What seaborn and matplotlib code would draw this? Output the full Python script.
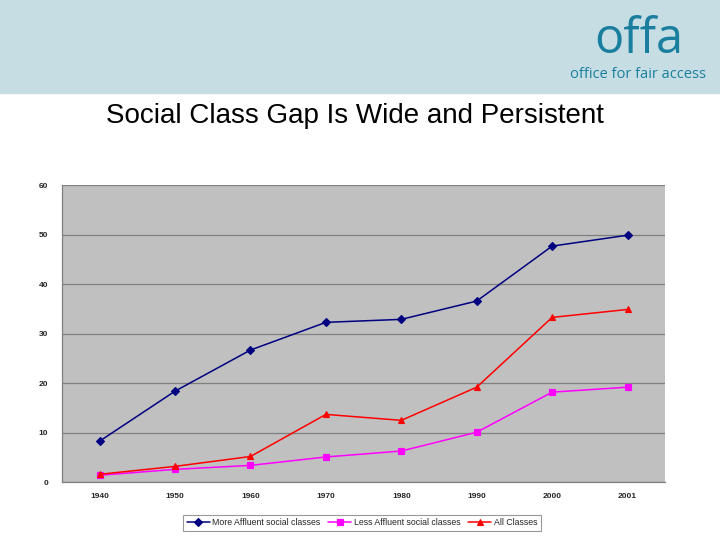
import numpy as np
import pandas as pd
import matplotlib.pyplot as plt
import seaborn as sns

# Data
years = ['1940', '1950', '1960', '1970', '1980', '1990', '2000', '2001']
more_affluent = [8.3, 18.4, 26.7, 32.3, 32.9, 36.6, 47.7, 49.9]
less_affluent = [1.4, 2.6, 3.4, 5.1, 6.3, 10.1, 18.2, 19.2]
all_classes = [1.6, 3.2, 5.2, 13.7, 12.5, 19.2, 33.3, 34.9]
series_names = ['More Affluent social classes', 'Less Affluent social classes', 'All Classes']

df = pd.DataFrame({
    'year': years * 3,
    'value': more_affluent + less_affluent + all_classes,
    'series': [series_names[0]] * 8 + [series_names[1]] * 8 + [series_names[2]] * 8,
})

sns.set_style('white')
plt.rcParams['font.family'] = ['Liberation Sans', 'DejaVu Sans']

fig = plt.figure(figsize=(7.2, 5.4), dpi=100)

# Header band with logo
fig.patches.append(plt.Rectangle((0, 1 - 93 / 540), 1, 93 / 540, transform=fig.transFigure,
                                 color='#c6dde3', zorder=0))
fig.text(0.887, 0.925, 'offa', color='#1a7f9e', fontsize=35, ha='center', va='center',
         family=['Open Sans', 'DejaVu Sans'])
fig.text(0.886, 0.862, 'office for fair access', color='#1a7f9e', fontsize=10.5, ha='center',
         va='center', family=['Open Sans', 'DejaVu Sans'])

# Title
fig.text(0.493, 0.785, 'Social Class Gap Is Wide and Persistent', fontsize=20,
         ha='center', va='center', color='black')

ax = fig.add_axes([0.086, 0.107, 0.838, 0.550])
ax.set_facecolor('#c0c0c0')

palette = {series_names[0]: '#000080', series_names[1]: '#ff00ff', series_names[2]: '#ff0000'}
sns.pointplot(data=df, x='year', y='value', hue='series', order=years, hue_order=series_names,
              palette=palette, markers=['D', 's', '^'], linestyles=['-', '-', '-'],
              dodge=False, errorbar=None, linewidth=1.1, markersize=4.5, ax=ax)

ax.set_xlim(-0.5, len(years) - 0.5)
ax.set_ylim(0, 60)
ax.set_yticks(range(0, 61, 10))
ax.yaxis.grid(True, color='#808080', linewidth=0.9)
ax.set_axisbelow(True)
ax.set_xlabel('')
ax.set_ylabel('')
ax.set_xticks(range(len(years)))
ax.set_xticklabels(years)
ax.set_xticks(np.arange(-0.5, len(years), 1), minor=True)
ax.tick_params(axis='x', which='major', length=0, labelsize=6, pad=8)
ax.tick_params(axis='x', which='minor', length=3, color='#808080', direction='out')
ax.tick_params(axis='y', length=0, labelsize=6, pad=10)
for lbl in ax.get_xticklabels() + ax.get_yticklabels():
    lbl.set_fontweight('bold')
for side in ['top', 'right']:
    ax.spines[side].set_visible(False)
for side in ['left', 'bottom']:
    ax.spines[side].set_color('#808080')
    ax.spines[side].set_linewidth(0.9)

leg = ax.legend(loc='upper center', bbox_to_anchor=(0.4975, -0.095), ncol=3, fontsize=6.3,
                frameon=True, fancybox=False, edgecolor='#808080', handlelength=2.6,
                columnspacing=0.9, handletextpad=0.3, borderpad=0.4)
leg.get_frame().set_linewidth(0.8)

fig.savefig('out.png', dpi=100)
